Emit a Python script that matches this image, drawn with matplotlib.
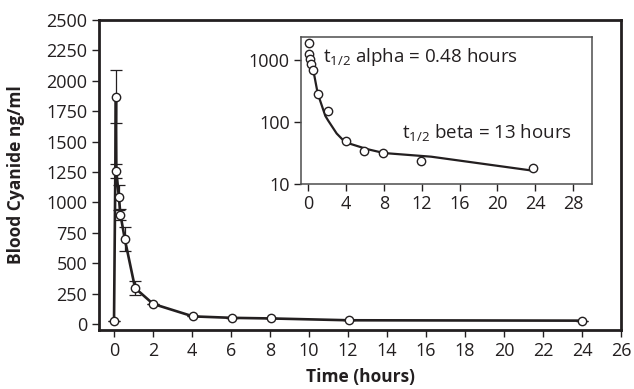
import matplotlib
matplotlib.use("Agg")
import matplotlib.pyplot as plt

plt.rcParams['font.family'] = ['Open Sans', 'DejaVu Sans']
plt.rcParams['mathtext.fontset'] = 'custom'
plt.rcParams['mathtext.rm'] = 'Open Sans'
plt.rcParams['mathtext.it'] = 'Open Sans:italic'

INK = '#231f20'

# Main chart data
time_h = [0, 0.1, 0.12, 0.25, 0.33, 0.55, 1.08, 2.0, 4.05, 6.05, 8.05, 12.05, 24.0]
cyanide = [20, 1870, 1260, 1040, 900, 700, 295, 165, 62, 50, 45, 30, 27]
err = [0, 220, 57, 100, 45, 100, 55, 0, 0, 0, 0, 0, 0]

# Inset (log scale) data
in_time = [0.07, 0.05, 0.18, 0.32, 0.53, 1.06, 2.05, 3.98, 5.92, 7.93, 11.9, 23.8]
in_cyanide = [1880, 1250, 1038, 862, 690, 283, 147, 50, 33.6, 31.6, 23.2, 17.9]
# Fitted curve vertices
fit_time = [0.53, 1.0, 1.8, 2.1, 3.0, 3.9, 6.2, 8.0, 13.0, 23.6]
fit_cyanide = [680, 285, 125, 105, 65, 47, 36.5, 31.5, 27.5, 16.5]

main_xticks = list(range(0, 27, 2))
main_yticks = list(range(0, 2501, 250))
inset_xticks = list(range(0, 29, 4))
inset_yticks = [10, 100, 1000]

W, H = 634, 389
fig = plt.figure(figsize=(W / 100, H / 100), dpi=100)

def px_axes(l, t, r, b):
    return fig.add_axes([l / W, 1 - b / H, (r - l) / W, (b - t) / H])

ax = px_axes(99, 20, 621, 330)
ax.errorbar(time_h, cyanide, yerr=err, fmt='none', ecolor=INK, elinewidth=0.9,
            capsize=4, capthick=0.9, zorder=2)
ax.plot(time_h, cyanide, '-', color=INK, lw=1.9, zorder=3)
ax.plot(time_h, cyanide, 'o', ms=6, mfc='white', mec=INK, mew=1.0, zorder=4)
ax.set_xlim(-0.77, 26)
ax.set_ylim(-50, 2500)
ax.set_xticks(main_xticks)
ax.set_yticks(main_yticks)
for s in ax.spines.values():
    s.set_linewidth(2.0)
    s.set_color(INK)
ax.tick_params(direction='out', length=5, width=1.0, color=INK, labelcolor=INK,
               labelsize=13, pad=3.5)
ax.set_xlabel('Time (hours)', fontsize=12.5, fontweight='bold', color=INK, labelpad=6)
ax.set_ylabel('Blood Cyanide ng/ml', fontsize=12.5, fontweight='bold', color=INK)
ax.yaxis.set_label_coords(-0.142, 0.5)

ins = px_axes(301, 37, 592, 184)
ins.set_facecolor('white')
ins.plot(fit_time, fit_cyanide, '-', color=INK, lw=1.6, zorder=3)
ins.plot(in_time, in_cyanide, 'o', ms=6, mfc='white', mec=INK, mew=1.0, zorder=4)
ins.set_yscale('log')
ins.set_xlim(-0.77, 30)
ins.set_ylim(10, 2320)
ins.set_xticks(inset_xticks)
ins.set_yticks(inset_yticks)
ins.set_yticklabels([str(v) for v in inset_yticks])
ins.minorticks_off()
for s in ins.spines.values():
    s.set_linewidth(1.1)
    s.set_color('#4d4d4d')
ins.tick_params(direction='out', length=5, width=1.0, color=INK, labelcolor=INK,
                labelsize=13, pad=3)

fig.text(323 / W, 1 - 61.7 / H, r'$\mathregular{t_{1/2}}$ alpha = 0.48 hours',
         fontsize=13.5, color=INK, va='baseline', ha='left')
fig.text(401.7 / W, 1 - 138.3 / H, r'$\mathregular{t_{1/2}}$ beta = 13 hours',
         fontsize=13.5, color=INK, va='baseline', ha='left')

fig.savefig('out.png', dpi=100)
